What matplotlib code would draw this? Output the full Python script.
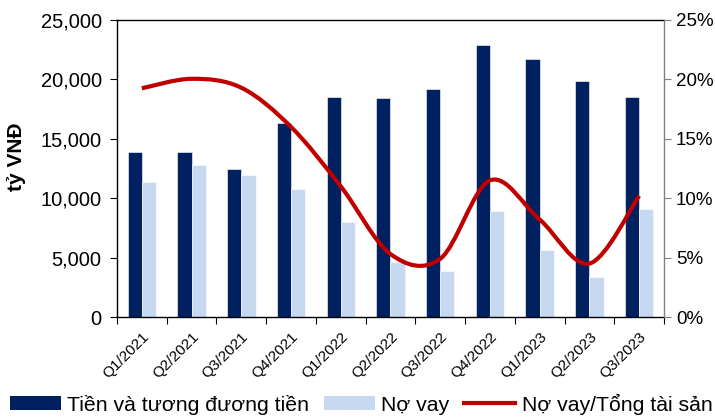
import matplotlib
matplotlib.use("Agg")
import matplotlib.pyplot as plt
from matplotlib.path import Path
from matplotlib.patches import PathPatch, Patch
from matplotlib.lines import Line2D
from matplotlib.ticker import FuncFormatter
import numpy as np

plt.rcParams['font.family'] = ['Liberation Sans', 'DejaVu Sans']

# data
quarters = ['Q1/2021', 'Q2/2021', 'Q3/2021', 'Q4/2021', 'Q1/2022', 'Q2/2022',
            'Q3/2022', 'Q4/2022', 'Q1/2023', 'Q2/2023', 'Q3/2023']
cash = [13900, 13850, 12430, 16330, 18540, 18460, 19170, 22870, 21690, 19890, 18540]
debt = [11340, 12820, 11980, 10770, 8000, 4600, 3850, 8920, 5640, 3390, 9060]
debt_ratio = [19.25, 20.05, 19.3, 16.0, 11.0, 5.3, 4.9, 11.5, 8.2, 4.5, 10.2]

DARK = '#002060'
LIGHT = '#C6D9F1'
RED = '#C00000'

fig = plt.figure(figsize=(7.15, 4.19), dpi=100)
ax = fig.add_axes([0.1636, 0.2434, 0.9287 - 0.1636, 0.9523 - 0.2434])
ax2 = ax.twinx()

x = np.arange(len(quarters))
w = 0.286
ax.bar(x - w / 2, cash, w, color=DARK, edgecolor='white', linewidth=0.4, zorder=2)
ax.bar(x + w / 2, debt, w, color=LIGHT, edgecolor='white', linewidth=0.4, zorder=2)

ax.set_xlim(-0.5, len(quarters) - 0.5)
ax.set_ylim(0, 25000)
ax.set_yticks(range(0, 25001, 5000))
ax.yaxis.set_major_formatter(FuncFormatter(lambda v, p: f'{int(v):,}'))
fig.text(16 / 715, 1 - 157 / 419, 'tỷ VNĐ', rotation=90, ha='center', va='center',
         fontsize=15, fontweight='bold')

# boundary ticks, labels at the centres
ax.set_xticks(np.arange(-0.5, len(quarters), 1.0))
ax.set_xticklabels([])
ax.set_xticks(x, minor=True)
ax.set_xticklabels(quarters, minor=True, rotation=45, ha='right',
                   rotation_mode='anchor', fontsize=11)
ax.tick_params(axis='x', which='major', direction='out', length=5, width=0.8)
ax.tick_params(axis='x', which='minor', length=0, pad=9)
ax.tick_params(axis='y', direction='out', length=5, width=0.8, labelsize=14.5, pad=6)

# smoothed line like the spreadsheet one
pts = np.column_stack([x, debt_ratio]).astype(float)
ext = np.vstack([pts[0], pts, pts[-1]])
verts = [tuple(pts[0])]
codes = [Path.MOVETO]
for i in range(len(pts) - 1):
    p0, p1, p2, p3 = ext[i], ext[i + 1], ext[i + 2], ext[i + 3]
    c1 = p1 + (p2 - p0) / 6
    c2 = p2 - (p3 - p1) / 6
    verts += [tuple(c1), tuple(c2), tuple(p2)]
    codes += [Path.CURVE4] * 3
ax2.add_patch(PathPatch(Path(verts, codes), facecolor='none', edgecolor=RED,
                        linewidth=3, capstyle='butt', zorder=3))
ax2.set_ylim(0, 25)
ax2.set_yticks(range(0, 26, 5))
ax2.yaxis.set_major_formatter(FuncFormatter(lambda v, p: f'{int(v)}%'))
ax2.tick_params(axis='y', direction='out', length=5, width=0.8, labelsize=13.5,
                color='#808080', pad=3.5)

for s in ['left', 'bottom', 'top']:
    ax.spines[s].set_color('black')
    ax.spines[s].set_linewidth(1.0)
ax.spines['right'].set_visible(False)
ax2.spines['left'].set_visible(False)
ax2.spines['bottom'].set_visible(False)
ax2.spines['top'].set_visible(False)
ax2.spines['right'].set_color('#808080')
ax2.spines['right'].set_linewidth(1.0)

handles = [Patch(facecolor=DARK, edgecolor='none'),
           Patch(facecolor=LIGHT, edgecolor='none'),
           Line2D([0], [0], color=RED, linewidth=3)]
labels = ['Tiền và tương đương tiền', 'Nợ vay', 'Nợ vay/Tổng tài sản']
fig.legend(handles, labels, loc='center', bbox_to_anchor=(0.505, 1 - 404 / 419),
           ncol=3, frameon=False, fontsize=15.3, handlelength=2.4,
           handleheight=0.6, handletextpad=0.3, columnspacing=0.7,
           borderpad=0, borderaxespad=0)

fig.savefig('out.png', dpi=100)
